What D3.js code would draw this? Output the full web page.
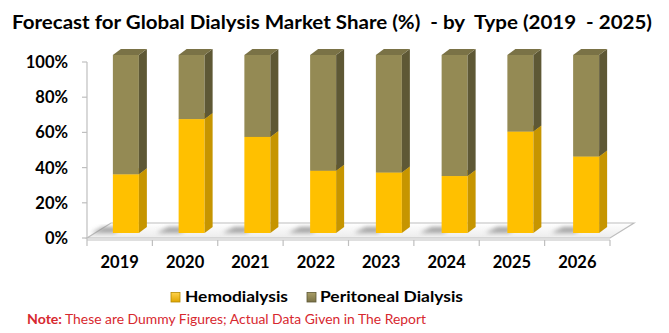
<!DOCTYPE html>
<html>
<head>
<meta charset="utf-8">
<script src="https://cdn.jsdelivr.net/npm/d3@7/dist/d3.min.js"></script>
<style>
  html, body { margin: 0; padding: 0; background: #fff; }
  svg { display: block; }
  text { font-family: Lato, "Open Sans", "Liberation Sans", sans-serif; white-space: pre; }
</style>
</head>
<body>
<svg id="chart" width="669" height="333"></svg>
<script>
const years = ["2019", "2020", "2021", "2022", "2023", "2024", "2025", "2026"];
const hemodialysis = [33, 64, 54, 35, 34, 32, 57, 43];
const peritoneal = [67, 36, 46, 65, 66, 68, 43, 57];
const yTickValues = [0, 20, 40, 60, 80, 100];
const seriesNames = ["Hemodialysis", "Peritoneal Dialysis"];
const titleText = "Forecast for Global Dialysis Market Share (%)  - by  Type (2019  - 2025)";
const noteLabel = "Note:";
const noteText = "These are Dummy Figures; Actual Data Given in The Report";

const colors = {
  hemo: { front: "#FFC000", side: "#C69500", top: "#E3AA00" },
  peri: { front: "#948A54", side: "#5E5835", top: "#7A7246" }
};

const svg = d3.select("#chart");

// gradients / filters
const defs = svg.append("defs");
const fg = defs.append("linearGradient").attr("id", "floorGrad").attr("x1", 0).attr("y1", 0).attr("x2", 0).attr("y2", 1);
fg.append("stop").attr("offset", "0%").attr("stop-color", "#ffffff");
fg.append("stop").attr("offset", "100%").attr("stop-color", "#ececec");
defs.append("filter").attr("id", "blur").attr("x", "-50%").attr("y", "-50%").attr("width", "200%").attr("height", "200%")
  .append("feGaussianBlur").attr("stdDeviation", 2.2);

const lg1 = defs.append("linearGradient").attr("id", "legHemo").attr("x1", 0).attr("y1", 0).attr("x2", 0).attr("y2", 1);
lg1.append("stop").attr("offset", "0%").attr("stop-color", "#FFD24A");
lg1.append("stop").attr("offset", "100%").attr("stop-color", "#E0A500");
const lg2 = defs.append("linearGradient").attr("id", "legPeri").attr("x1", 0).attr("y1", 0).attr("x2", 0).attr("y2", 1);
lg2.append("stop").attr("offset", "0%").attr("stop-color", "#A89D66");
lg2.append("stop").attr("offset", "100%").attr("stop-color", "#7A7246");

// scales
const xAxisScale = d3.scaleBand().domain(years).range([87, 610]);
const xBarScale = d3.scaleBand().domain(years).range([93, 619]);
const yAxisScale = d3.scaleLinear().domain([0, 100]).range([238, 62]);
const yBarScale = d3.scaleLinear().domain([0, 100]).range([233, 55]);
const barW = 26, dX = 8, dY = 6;
const floorDX = 24, floorDY = 15;

// title
svg.append("text").attr("x", 12).attr("y", 29)
  .attr("font-size", 19.5).attr("font-weight", "bold").attr("fill", "#000")
  .attr("textLength", 640).attr("lengthAdjust", "spacingAndGlyphs")
  .text(titleText);

// floor
const fx0 = xAxisScale.range()[0], fx1 = xAxisScale.range()[1], fy = yAxisScale(0);
svg.append("polygon")
  .attr("points", [[fx0, fy], [fx1, fy], [fx1 + floorDX, fy - floorDY], [fx0 + floorDX, fy - floorDY]].map(p => p.join(",")).join(" "))
  .attr("fill", "url(#floorGrad)").attr("stroke", "#bdbdbd").attr("stroke-width", 1.2);

// y axis
svg.append("line").attr("x1", fx0).attr("x2", fx0).attr("y1", yAxisScale(100)).attr("y2", fy + 2)
  .attr("stroke", "#bfbfbf").attr("stroke-width", 1.2);
svg.append("g").selectAll("line").data(yTickValues).join("line")
  .attr("x1", fx0 - 5).attr("x2", fx0).attr("y1", d => yAxisScale(d)).attr("y2", d => yAxisScale(d))
  .attr("stroke", "#bfbfbf").attr("stroke-width", 1.2);
svg.append("g").selectAll("text").data(yTickValues).join("text")
  .attr("x", 68).attr("y", d => yAxisScale(d)).attr("dy", "0.36em")
  .attr("text-anchor", "end").attr("font-size", 16.5).attr("font-weight", "bold").attr("fill", "#000")
  .text(d => d + "%");

// x axis
svg.append("line").attr("x1", fx0).attr("x2", fx1).attr("y1", fy + 2).attr("y2", fy + 2)
  .attr("stroke", "#bfbfbf").attr("stroke-width", 1.2);
const boundaries = years.map(y => xAxisScale(y)).concat([fx1]);
svg.append("g").selectAll("line").data(boundaries).join("line")
  .attr("x1", d => d).attr("x2", d => d).attr("y1", fy + 2).attr("y2", fy + 8)
  .attr("stroke", "#bfbfbf").attr("stroke-width", 1.2);
svg.append("g").selectAll("text").data(years).join("text")
  .attr("x", d => xAxisScale(d) + xAxisScale.bandwidth() / 2).attr("y", 268)
  .attr("text-anchor", "middle").attr("font-size", 16.5).attr("font-weight", "bold").attr("fill", "#000")
  .text(d => d);

// shadows
const shadowG = svg.append("g").attr("filter", "url(#blur)");
years.forEach((yr) => {
  const left = xBarScale(yr) + xBarScale.bandwidth() / 2 - barW / 2;
  const base = yBarScale(0);
  shadowG.append("polygon")
    .attr("points", [[left - 22, base], [left + 2, base], [left + 8, base - 6], [left - 10, base - 6]].map(p => p.join(",")).join(" "))
    .attr("fill", "#8f8f8f").attr("opacity", 0.8);
});

// bars
const barsG = svg.append("g");
years.forEach((yr, i) => {
  const left = xBarScale(yr) + xBarScale.bandwidth() / 2 - barW / 2;
  const segs = [
    { v0: 0, v1: hemodialysis[i], c: colors.hemo },
    { v0: hemodialysis[i], v1: hemodialysis[i] + peritoneal[i], c: colors.peri }
  ];
  segs.forEach(s => {
    const yTop = yBarScale(s.v1), yBot = yBarScale(s.v0);
    const g = barsG.append("g");
    g.append("rect").attr("x", left).attr("y", yTop).attr("width", barW).attr("height", yBot - yTop)
      .attr("fill", s.c.front);
    g.append("polygon")
      .attr("points", [[left + barW, yBot], [left + barW, yTop], [left + barW + dX, yTop - dY], [left + barW + dX, yBot - dY]].map(p => p.join(",")).join(" "))
      .attr("fill", s.c.side);
    g.append("polygon")
      .attr("points", [[left, yTop], [left + barW, yTop], [left + barW + dX, yTop - dY], [left + dX, yTop - dY]].map(p => p.join(",")).join(" "))
      .attr("fill", s.c.top);
  });
});

// legend
const legend = svg.append("g");
legend.append("rect").attr("x", 171).attr("y", 292.5).attr("width", 9).attr("height", 9.5)
  .attr("fill", "url(#legHemo)").attr("stroke", "#B58A00").attr("stroke-width", 0.8);
legend.append("text").attr("x", 185).attr("y", 302).attr("font-size", 16).attr("font-weight", "bold")
  .attr("textLength", 103).attr("lengthAdjust", "spacingAndGlyphs").text(seriesNames[0]);
legend.append("rect").attr("x", 307).attr("y", 292.5).attr("width", 9).attr("height", 9.5)
  .attr("fill", "url(#legPeri)").attr("stroke", "#5E5835").attr("stroke-width", 0.8);
legend.append("text").attr("x", 320).attr("y", 302).attr("font-size", 16).attr("font-weight", "bold")
  .attr("textLength", 143).attr("lengthAdjust", "spacingAndGlyphs").text(seriesNames[1]);

// note
svg.append("text").attr("x", 27).attr("y", 324).attr("font-size", 13).attr("font-weight", "bold")
  .attr("fill", "#D7282F").attr("textLength", 35).attr("lengthAdjust", "spacingAndGlyphs").text(noteLabel);
svg.append("text").attr("x", 65).attr("y", 324).attr("font-size", 13)
  .attr("fill", "#D7282F").attr("textLength", 361).attr("lengthAdjust", "spacingAndGlyphs").text(noteText);
</script>
</body>
</html>
